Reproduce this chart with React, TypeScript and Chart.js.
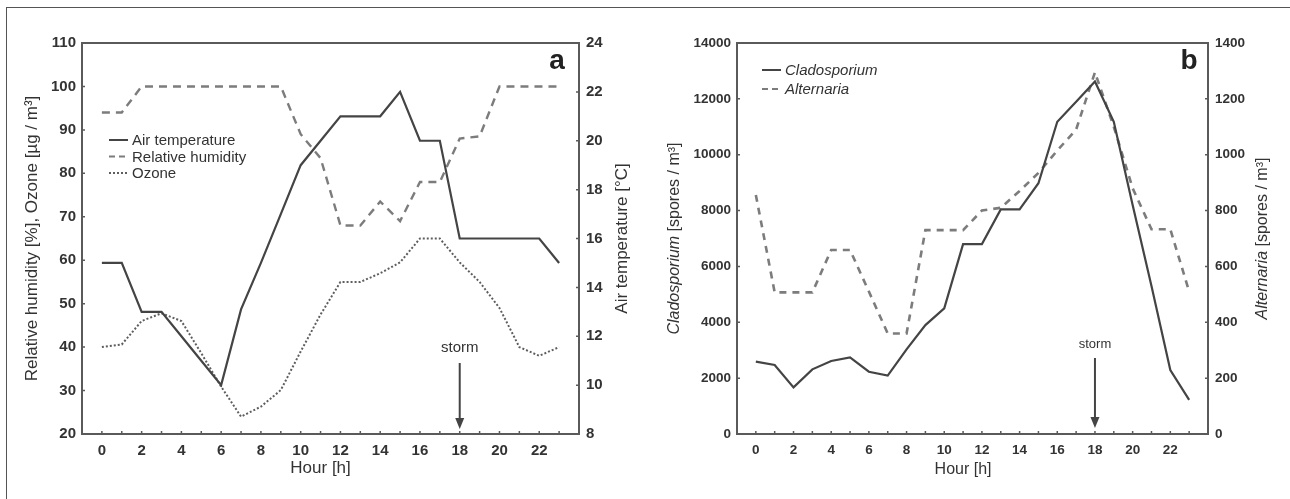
import React, { useEffect, useRef } from "react";
import { Chart, registerables } from "chart.js";

Chart.register(...registerables);

// ---------- data ----------
const hours = [0, 1, 2, 3, 4, 5, 6, 7, 8, 9, 10, 11, 12, 13, 14, 15, 16, 17, 18, 19, 20, 21, 22, 23];
const hourTickLabels = [0, 2, 4, 6, 8, 10, 12, 14, 16, 18, 20, 22];

// panel a
const airTemperature = [15, 15, 13, 13, 12, 11, 10, 13.1, 15, 17, 19, 20, 21, 21, 21, 22, 20, 20, 16, 16, 16, 16, 16, 15];
const relativeHumidity = [94, 94, 100, 100, 100, 100, 100, 100, 100, 100, 89, 83.5, 68, 68, 73.5, 69, 78, 78, 88, 88.5, 100, 100, 100, 100];
const ozone = [40, 40.6, 46, 47.8, 46, 38.6, 30.9, 24, 26.3, 30.1, 39, 47.5, 55, 55, 57, 59.5, 65, 65, 59.5, 55, 49, 40, 38, 40];

// panel b
const cladosporium = [2590, 2470, 1670, 2315, 2614, 2745, 2230, 2090, 3030, 3900, 4500, 6800, 6800, 8040, 8040, 8980, 11180, 11900, 12620, 11180, 8200, 5300, 2290, 1220];
const alternaria = [856, 507, 507, 507, 659, 659, 510, 360, 360, 730, 730, 730, 800, 810, 870, 935, 1015, 1090, 1295, 1100, 880, 733, 733, 510];

const stormHour = 18;

// ---------- styling ----------
const FONT = "'Liberation Sans', Arial, Helvetica, sans-serif";
const TEXT = "#333333";
const AXIS = "#5a5a5a";
const SOLID = "#444444";
const DASHED = "#7c7c7c";
const DOTTED = "#5e5e5e";

type Part = { t: string; italic?: boolean };
type LegendItem = { label: string; italic?: boolean; dash: number[]; color: string; width: number };

interface PanelCfg {
  width: number;
  height: number;
  area: { left: number; right: number; top: number; bottom: number };
  yLeft: { min: number; max: number; step: number };
  yRight: { min: number; max: number; step: number };
  tickFont: number;
  titleFont: number;
  leftTitle: Part[];
  rightTitle: Part[];
  leftTitleX: number;
  rightTitleX: number;
  xTitle: string;
  xTitleY: number;
  legend: LegendItem[];
  legendX: number;
  legendY: number;
  legendGap: number;
  legendFont: number;
  letter: string;
  letterX: number;
  letterY: number;
  storm: { textY: number; y0: number; y1: number; font: number };
  datasets: any[];
}

const pts = (vals: number[]) => hours.map((h, i) => ({ x: h, y: vals[i] }));

const panelA: PanelCfg = {
  width: 645,
  height: 499,
  area: { left: 82, right: 579, top: 43, bottom: 434 },
  yLeft: { min: 20, max: 110, step: 10 },
  yRight: { min: 8, max: 24, step: 2 },
  tickFont: 15,
  titleFont: 17,
  leftTitle: [{ t: "Relative humidity [%], Ozone [µg / m³]" }],
  rightTitle: [{ t: "Air temperature [°C]" }],
  leftTitleX: 32,
  rightTitleX: 622,
  xTitle: "Hour [h]",
  xTitleY: 468,
  legend: [
    { label: "Air temperature", dash: [], color: SOLID, width: 2 },
    { label: "Relative humidity", dash: [6, 4], color: DASHED, width: 2.2 },
    { label: "Ozone", dash: [2, 2], color: DOTTED, width: 2 },
  ],
  legendX: 109,
  legendY: 140,
  legendGap: 16.5,
  legendFont: 15,
  letter: "a",
  letterX: 557,
  letterY: 69,
  storm: { textY: 348, y0: 363, y1: 429, font: 15 },
  datasets: [
    { label: "Air temperature", data: pts(airTemperature), yAxisID: "yR", borderColor: SOLID, borderWidth: 2.2, borderDash: [] },
    { label: "Relative humidity", data: pts(relativeHumidity), yAxisID: "yL", borderColor: DASHED, borderWidth: 2.4, borderDash: [8, 6] },
    { label: "Ozone", data: pts(ozone), yAxisID: "yL", borderColor: DOTTED, borderWidth: 2, borderDash: [2, 2] },
  ],
};

const panelB: PanelCfg = {
  width: 645,
  height: 499,
  area: { left: 92, right: 563, top: 43, bottom: 434 },
  yLeft: { min: 0, max: 14000, step: 2000 },
  yRight: { min: 0, max: 1400, step: 200 },
  tickFont: 13.5,
  titleFont: 16,
  leftTitle: [{ t: "Cladosporium", italic: true }, { t: " [spores / m³]" }],
  rightTitle: [{ t: "Alternaria", italic: true }, { t: " [spores / m³]" }],
  leftTitleX: 30,
  rightTitleX: 618,
  xTitle: "Hour [h]",
  xTitleY: 470,
  legend: [
    { label: "Cladosporium", italic: true, dash: [], color: SOLID, width: 2 },
    { label: "Alternaria", italic: true, dash: [6, 4], color: DASHED, width: 2.2 },
  ],
  legendX: 117,
  legendY: 70,
  legendGap: 19,
  legendFont: 15,
  letter: "b",
  letterX: 544,
  letterY: 69,
  storm: { textY: 344, y0: 358, y1: 428, font: 13 },
  datasets: [
    { label: "Cladosporium", data: pts(cladosporium), yAxisID: "yL", borderColor: SOLID, borderWidth: 2.2, borderDash: [] },
    { label: "Alternaria", data: pts(alternaria), yAxisID: "yR", borderColor: DASHED, borderWidth: 2.6, borderDash: [7, 6] },
  ],
};

function drawRotatedTitle(ctx: CanvasRenderingContext2D, parts: Part[], cx: number, cy: number, size: number) {
  ctx.save();
  ctx.translate(cx, cy);
  ctx.rotate(-Math.PI / 2);
  ctx.fillStyle = TEXT;
  ctx.textBaseline = "middle";
  ctx.textAlign = "left";
  const fonts = parts.map((p) => `${p.italic ? "italic " : ""}${size}px ${FONT}`);
  let total = 0;
  const widths = parts.map((p, i) => {
    ctx.font = fonts[i];
    const w = ctx.measureText(p.t).width;
    total += w;
    return w;
  });
  let x = -total / 2;
  parts.forEach((p, i) => {
    ctx.font = fonts[i];
    ctx.fillText(p.t, x, 0);
    x += widths[i];
  });
  ctx.restore();
}

function makePlugin(cfg: PanelCfg) {
  return {
    id: "panelDecor",
    afterDraw(chart: any) {
      const ctx: CanvasRenderingContext2D = chart.ctx;
      const a = chart.chartArea;
      const sx = chart.scales.x;
      const sl = chart.scales.yL;
      const sr = chart.scales.yR;
      ctx.save();
      // tick marks (inside)
      ctx.strokeStyle = AXIS;
      ctx.lineWidth = 1.5;
      ctx.setLineDash([]);
      ctx.beginPath();
      hours.forEach((h) => {
        const x = sx.getPixelForValue(h);
        ctx.moveTo(x, a.bottom);
        ctx.lineTo(x, a.bottom - 3);
      });
      sl.ticks.forEach((t: any) => {
        const y = sl.getPixelForValue(t.value);
        ctx.moveTo(a.left, y);
        ctx.lineTo(a.left + 3, y);
      });
      sr.ticks.forEach((t: any) => {
        const y = sr.getPixelForValue(t.value);
        ctx.moveTo(a.right, y);
        ctx.lineTo(a.right - 3, y);
      });
      ctx.stroke();
      // plot box
      ctx.lineWidth = 2;
      ctx.strokeRect(a.left, a.top, a.right - a.left, a.bottom - a.top);

      // axis titles
      drawRotatedTitle(ctx, cfg.leftTitle, cfg.leftTitleX, (a.top + a.bottom) / 2, cfg.titleFont);
      drawRotatedTitle(ctx, cfg.rightTitle, cfg.rightTitleX, (a.top + a.bottom) / 2, cfg.titleFont);
      ctx.fillStyle = TEXT;
      ctx.font = `${cfg.titleFont}px ${FONT}`;
      ctx.textAlign = "center";
      ctx.textBaseline = "middle";
      const xc = (sx.getPixelForValue(hourTickLabels[0]) + sx.getPixelForValue(hourTickLabels[hourTickLabels.length - 1])) / 2;
      ctx.fillText(cfg.xTitle, xc, cfg.xTitleY);

      // panel letter
      ctx.font = `bold 28px ${FONT}`;
      ctx.fillStyle = "#222";
      ctx.textBaseline = "alphabetic";
      ctx.fillText(cfg.letter, cfg.letterX, cfg.letterY);

      // legend
      cfg.legend.forEach((item, i) => {
        const y = cfg.legendY + i * cfg.legendGap;
        ctx.strokeStyle = item.color;
        ctx.lineWidth = item.width;
        ctx.setLineDash(item.dash);
        ctx.beginPath();
        ctx.moveTo(cfg.legendX, y);
        ctx.lineTo(cfg.legendX + 19, y);
        ctx.stroke();
        ctx.setLineDash([]);
        ctx.fillStyle = TEXT;
        ctx.font = `${item.italic ? "italic " : ""}${cfg.legendFont}px ${FONT}`;
        ctx.textAlign = "left";
        ctx.textBaseline = "middle";
        ctx.fillText(item.label, cfg.legendX + 23, y + 1);
      });

      // storm annotation
      const stx = sx.getPixelForValue(stormHour);
      ctx.fillStyle = TEXT;
      ctx.font = `${cfg.storm.font}px ${FONT}`;
      ctx.textAlign = "center";
      ctx.textBaseline = "middle";
      ctx.fillText("storm", stx, cfg.storm.textY);
      ctx.strokeStyle = "#444";
      ctx.lineWidth = 2;
      ctx.beginPath();
      ctx.moveTo(stx, cfg.storm.y0);
      ctx.lineTo(stx, cfg.storm.y1 - 8);
      ctx.stroke();
      ctx.fillStyle = "#444";
      ctx.beginPath();
      ctx.moveTo(stx - 4.5, cfg.storm.y1 - 11);
      ctx.lineTo(stx + 4.5, cfg.storm.y1 - 11);
      ctx.lineTo(stx, cfg.storm.y1);
      ctx.closePath();
      ctx.fill();
      ctx.restore();
    },
  };
}

function buildConfig(cfg: PanelCfg): any {
  const tickFont = { family: FONT, size: cfg.tickFont, weight: "bold" as const };
  const plain = (v: any) => String(v);
  return {
    type: "line",
    data: {
      datasets: cfg.datasets.map((d) => ({
        ...d,
        pointRadius: 0,
        pointHoverRadius: 0,
        tension: 0,
        fill: false,
        borderCapStyle: "butt",
        borderJoinStyle: "miter",
      })),
    },
    options: {
      responsive: false,
      animation: false,
      devicePixelRatio: 1,
      events: [],
      layout: { padding: { top: cfg.area.top, left: 0, right: 0, bottom: 0 } },
      plugins: { legend: { display: false }, tooltip: { enabled: false }, title: { display: false } },
      scales: {
        x: {
          type: "linear",
          min: -1,
          max: 24,
          grid: { display: false, drawTicks: false },
          border: { display: false },
          ticks: { font: tickFont, color: TEXT, padding: 8, maxRotation: 0, callback: plain },
          afterBuildTicks: (s: any) => {
            s.ticks = hourTickLabels.map((v) => ({ value: v }));
          },
          afterFit: (s: any) => {
            s.height = cfg.height - cfg.area.bottom;
          },
        },
        yL: {
          type: "linear",
          position: "left",
          min: cfg.yLeft.min,
          max: cfg.yLeft.max,
          grid: { display: false, drawTicks: false },
          border: { display: false },
          ticks: { stepSize: cfg.yLeft.step, font: tickFont, color: TEXT, padding: 6, callback: plain },
          afterFit: (s: any) => {
            s.width = cfg.area.left;
          },
        },
        yR: {
          type: "linear",
          position: "right",
          min: cfg.yRight.min,
          max: cfg.yRight.max,
          grid: { display: false, drawTicks: false },
          border: { display: false },
          ticks: { stepSize: cfg.yRight.step, font: tickFont, color: TEXT, padding: 7, callback: plain },
          afterFit: (s: any) => {
            s.width = cfg.width - cfg.area.right;
          },
        },
      },
    },
    plugins: [makePlugin(cfg)],
  };
}

function Panel({ cfg, left }: { cfg: PanelCfg; left: number }) {
  const ref = useRef<HTMLCanvasElement>(null);
  useEffect(() => {
    const chart = new Chart(ref.current as HTMLCanvasElement, buildConfig(cfg));
    return () => chart.destroy();
  }, [cfg]);
  return (
    <canvas
      ref={ref}
      width={cfg.width}
      height={cfg.height}
      style={{ position: "absolute", left, top: 0, width: cfg.width, height: cfg.height }}
    />
  );
}

export default function App() {
  useEffect(() => {
    document.body.style.margin = "0";
    document.body.style.background = "#ffffff";
  }, []);
  return (
    <div style={{ position: "relative", width: 1290, height: 499, overflow: "hidden", background: "#fff" }}>
      <div
        style={{
          position: "absolute",
          left: 6,
          top: 7,
          width: 1300,
          height: 520,
          border: "1px solid #555",
          boxSizing: "border-box",
        }}
      />
      <Panel cfg={panelA} left={0} />
      <Panel cfg={panelB} left={645} />
    </div>
  );
}
